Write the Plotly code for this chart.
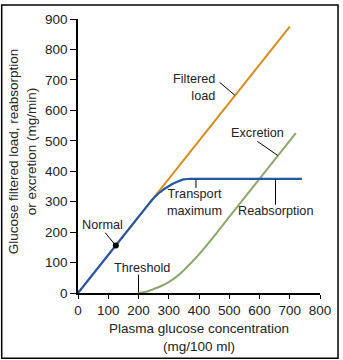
import plotly.graph_objects as go

# Data
filtered_x = [0, 700]
filtered_y = [0, 875]

reab_x = [0, 240, 250, 260, 270, 280, 290, 300, 310, 320, 330, 340, 350, 360, 375, 740]
reab_y = [0, 300, 311, 321, 330, 338, 345, 351, 357, 362, 366, 370, 373, 374.5, 375, 375]

excr_x = [200, 225, 250, 275, 300, 325, 350, 375, 400, 450, 500, 600, 720]
excr_y = [0, 4, 13, 23, 36, 53, 75, 100, 127, 187, 250, 375, 525]

normal_x = [125]
normal_y = [156]

x_ticks = [0, 100, 200, 300, 400, 500, 600, 700, 800]
y_ticks = [0, 100, 200, 300, 400, 500, 600, 700, 800, 900]

ORANGE = "#D98B1E"
BLUE = "#2358A8"
GREEN = "#8BA86C"
FONT = "Liberation Sans, Arial, sans-serif"

W, H = 343, 360
ML, MR, MT, MB = 78, 20, 15, 67
PW, PH = W - ML - MR, H - MT - MB

fig = go.Figure()
fig.add_trace(go.Scatter(x=filtered_x, y=filtered_y, mode="lines",
                         line=dict(color=ORANGE, width=2), hoverinfo="skip"))
fig.add_trace(go.Scatter(x=excr_x, y=excr_y, mode="lines",
                         line=dict(color=GREEN, width=2, shape="spline", smoothing=0.6), hoverinfo="skip"))
fig.add_trace(go.Scatter(x=reab_x, y=reab_y, mode="lines",
                         line=dict(color=BLUE, width=2.2, shape="spline", smoothing=0.4), hoverinfo="skip"))
fig.add_trace(go.Scatter(x=normal_x, y=normal_y, mode="markers",
                         marker=dict(color="black", size=6), hoverinfo="skip"))

def leader(x0, y0, x1, y1):
    fig.add_shape(type="line", xref="x", yref="y", x0=x0, y0=y0, x1=x1, y1=y1,
                  line=dict(color="black", width=1))

leader(468, 692, 518, 650)
leader(593, 498, 660, 452)
leader(390, 373, 390, 345)
leader(653, 373, 653, 290)
leader(90, 198, 123, 158)
leader(200, 60, 200, 2)

def label(text, x, y, xanchor="center", align="center"):
    fig.add_annotation(x=x, y=y, xref="x", yref="y", text=text, showarrow=False,
                       xanchor=xanchor, yanchor="middle", align=align,
                       font=dict(family=FONT, size=12.7, color="#222"))

label("Filtered<br>load", 458, 676, xanchor="right", align="right")
label("Excretion", 593, 526)
label("Transport<br>maximum", 385, 297)
label("Reabsorption", 653, 269)
label("Normal", 80, 225)
label("Threshold", 212, 83)

# Axis titles
fig.add_annotation(xref="paper", yref="paper", x=(21.5 - ML) / PW, y=(H - MB - 149) / PH,
                   text="Glucose filtered load, reabsorption<br>or excretion (mg/min)",
                   textangle=-90, showarrow=False, xanchor="center", yanchor="middle",
                   font=dict(family=FONT, size=13.5, color="#222"))
fig.add_annotation(xref="paper", yref="paper", x=0.5, y=(H - MB - 338) / PH,
                   text="Plasma glucose concentration<br>(mg/100 ml)",
                   showarrow=False, xanchor="center", yanchor="middle",
                   font=dict(family=FONT, size=13.5, color="#222"))

# Outer frame
fig.add_shape(type="rect", xref="paper", yref="paper",
              x0=(0.75 - ML) / PW, x1=(W - 1.75 - ML) / PW,
              y0=(H - MB - (H - 0.75)) / PH, y1=(H - MB - 0.75) / PH,
              line=dict(color="black", width=1.5))

axis_common = dict(showline=True, linecolor="black", linewidth=1.5, ticks="outside",
                   tickcolor="black", tickwidth=1.2, showgrid=False, zeroline=False,
                   tickfont=dict(family=FONT, size=13.5, color="#222"))

fig.update_layout(
    width=W, height=H, margin=dict(l=ML, r=MR, t=MT, b=MB),
    paper_bgcolor="white", plot_bgcolor="white", showlegend=False,
    xaxis=dict(range=[0, 800], tickvals=x_ticks, ticklen=4, **axis_common),
    yaxis=dict(range=[0, 900], tickvals=y_ticks, ticklen=6, **axis_common),
)

fig.write_html("out.html")
